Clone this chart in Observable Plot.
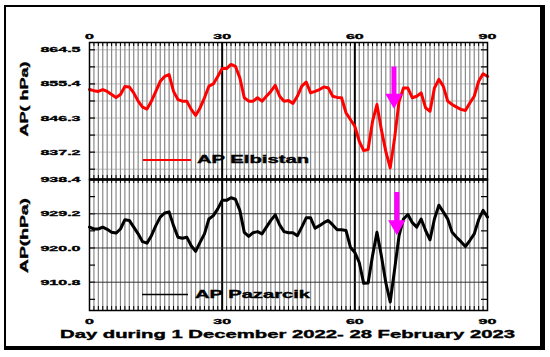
<!DOCTYPE html>
<html>
<head>
<meta charset="utf-8">
<script src="https://cdn.jsdelivr.net/npm/d3@7"></script>
<script src="https://cdn.jsdelivr.net/npm/@observablehq/plot@0.6"></script>
<style>
  html, body { margin: 0; padding: 0; background: #fff; }
  #wrap { position: relative; width: 550px; height: 357px; overflow: hidden; background: #fff; }
  #frame { position: absolute; left: 4px; top: 5px; width: 541px; height: 345px; box-sizing: border-box;
           border-style: solid; border-color: #000; border-width: 2px 5px 4px 2px; }
  .layer { position: absolute; left: 0; top: 0; }
  .layer text { stroke: #000; stroke-width: 0.35px; }
</style>
</head>
<body>
<div id="wrap"><div id="frame"></div></div>
<script>
// ---- data ----
const days = d3.range(0, 91);
const elbistan = [
  853.9, 853.6, 853.4, 853.9, 853.4, 852.6, 851.8, 852.6, 854.7, 854.6,
  853.0, 850.8, 849.2, 848.7, 850.8, 853.4, 856.1, 857.4, 857.9, 853.4,
  851.2, 850.8, 850.8, 848.6, 847.0, 849.0, 851.7, 854.8, 855.4, 857.4,
  859.5, 859.5, 860.6, 860.1, 857.0, 851.7, 850.8, 850.8, 851.7, 850.8,
  852.1, 853.4, 855.0, 852.1, 850.8, 851.0, 850.2, 852.1, 854.8, 855.9,
  853.0, 853.4, 853.9, 854.6, 854.3, 852.1, 851.8, 851.7, 847.7, 845.9,
  844.1, 840.1, 837.6, 837.9, 845.4, 849.9, 843.2, 837.4, 833.0, 841.0,
  850.8, 854.3, 854.3, 851.7, 852.1, 853.0, 849.0, 848.1, 854.3, 856.6,
  854.8, 850.8, 849.9, 849.2, 848.6, 848.3, 850.3, 852.1, 856.1, 858.1,
  857.4
];
const pazarcik = [
  925.6, 925.1, 925.1, 925.6, 925.0, 924.2, 924.0, 925.1, 927.6, 927.4,
  925.6, 923.8, 921.7, 921.3, 923.3, 926.0, 928.3, 929.4, 929.7, 926.0,
  922.9, 922.6, 922.9, 920.6, 919.1, 921.5, 923.8, 927.8, 928.7, 930.5,
  932.8, 932.8, 933.5, 933.1, 930.1, 924.2, 923.1, 924.1, 924.4, 923.8,
  925.6, 927.4, 928.9, 926.2, 924.4, 924.1, 924.1, 923.3, 925.6, 928.1,
  928.1, 925.3, 926.0, 926.8, 927.4, 926.2, 924.9, 924.9, 924.7, 920.2,
  918.8, 916.1, 910.5, 910.6, 917.9, 924.2, 917.9, 910.7, 905.5, 914.3,
  923.3, 927.8, 929.0, 926.8, 925.6, 927.8, 924.7, 922.2, 927.8, 931.5,
  929.7, 927.8, 924.2, 922.9, 921.7, 920.4, 922.0, 923.8, 927.6, 930.1,
  928.3
];
const xTicks = [0, 30, 60, 90];
const topTicks = [864.5, 855.4, 846.3, 837.2];
const topMinor = [859.95, 850.85, 841.75, 832.65];
const botTicks = [938.4, 929.2, 920.0, 910.8];
const botMinor = [933.8, 924.6, 915.4, 906.2];
const monthLines = [30, 60];
// magenta arrows (day, start value, tip value)
const arrowDay = [68.85, 69.5];
const arrowFrom = [859.9, 934.9];
const arrowTip = [848.8, 923.4];

const rows = days.map((d, i) => ({day: d, elb: elbistan[i], paz: pazarcik[i]}));
const minorDays = days.filter(d => d > 0 && d < 90 && !monthLines.includes(d));

// ---- layout ----
const W = 550, H = 357;
const mL = 89, mR = 63;
const topY0 = 42, midY = 179, botY1 = 310;
const frameW = W - mL - mR;

const font = {fontFamily: "'Liberation Sans', Arial, sans-serif", fontWeight: "bold", fontSize: "8px", background: "transparent", overflow: "visible"};

function commonMarks(yAll, fh) {
  return [
    Plot.ruleX(minorDays, {stroke: "#8a8a8a", strokeWidth: 1.2}),
    Plot.ruleX(days, {stroke: "#000", strokeWidth: 1, insetBottom: fh - 4}),
    Plot.ruleX(days, {stroke: "#000", strokeWidth: 1, insetTop: fh - 4}),
    Plot.ruleY(yAll, {stroke: "#000", strokeWidth: 1.2, insetRight: frameW - 6}),
    Plot.ruleY(yAll, {stroke: "#000", strokeWidth: 1.2, insetLeft: frameW - 6}),
    Plot.ruleX(monthLines, {stroke: "#000", strokeWidth: 2})
  ];
}

const topFH = midY - topY0;
const topPlot = Plot.plot({
  width: W, height: H,
  marginLeft: mL, marginRight: mR, marginTop: topY0, marginBottom: H - midY,
  style: font,
  x: {domain: [0, 90], axis: "top", ticks: xTicks, tickSize: 0, tickPadding: 4, label: null},
  y: {domain: [829.9, 866.45], ticks: topTicks, tickSize: 0, tickPadding: 9, tickFormat: d => d.toFixed(1), label: null},
  marks: [
    Plot.ruleY([...topTicks, ...topMinor], {stroke: "#bdbdbd", strokeWidth: 1}),
    ...commonMarks([...topTicks, ...topMinor], topFH),
    Plot.line(rows, {x: "day", y: "elb", stroke: "#ff0000", strokeWidth: 3, strokeLinejoin: "round"}),
    Plot.ruleX([0], {x: () => arrowDay[0], y1: () => arrowFrom[0], y2: () => arrowTip[0], stroke: "#ff00ff", strokeWidth: 5, insetBottom: 12}),
    Plot.dot([0], {x: () => arrowDay[0], y: () => arrowTip[0], symbol: "triangle", r: 6.45, rotate: 180, dy: -10, fill: "#ff00ff", stroke: "none"}),
    Plot.frame({stroke: "#000", strokeWidth: 1.5})
  ]
});

const botFH = botY1 - midY;
const botPlot = Plot.plot({
  width: W, height: H,
  marginLeft: mL, marginRight: mR, marginTop: midY, marginBottom: H - botY1,
  style: font,
  x: {domain: [0, 90], axis: "bottom", ticks: xTicks, tickSize: 0, tickPadding: 8, label: null},
  y: {domain: [903.2, 938.4], ticks: botTicks, tickSize: 0, tickPadding: 9, tickFormat: d => d.toFixed(1), label: null},
  marks: [
    ...commonMarks([...botTicks, ...botMinor], botFH),
    Plot.ruleY(botTicks.slice(1), {stroke: "#333", strokeWidth: 1}),
    Plot.line(rows, {x: "day", y: "paz", stroke: "#000", strokeWidth: 3, strokeLinejoin: "round"}),
    Plot.ruleX([0], {x: () => arrowDay[1], y1: () => arrowFrom[1], y2: () => arrowTip[1], stroke: "#ff00ff", strokeWidth: 5, insetBottom: 12}),
    Plot.dot([0], {x: () => arrowDay[1], y: () => arrowTip[1], symbol: "triangle", r: 6.45, rotate: 180, dy: -10, fill: "#ff00ff", stroke: "none"}),
    Plot.ruleY([938.4], {stroke: "#000", strokeWidth: 2.5}),
    Plot.frame({stroke: "#000", strokeWidth: 1.5})
  ]
});

const wrap = document.getElementById("wrap");
[topPlot, botPlot].forEach(p => { p.classList.add("layer"); wrap.appendChild(p); });

// overlay for titles and legends
const ov = d3.select(wrap).append("svg").attr("class", "layer").attr("width", W).attr("height", H)
  .style("font-family", "'Liberation Sans', Arial, sans-serif").style("font-weight", "bold");

function addText(sel, txt, len) {
  sel.text(txt).attr("textLength", len).attr("lengthAdjust", "spacingAndGlyphs");
  return sel;
}
// legends
ov.append("line").attr("x1", 143).attr("x2", 191).attr("y1", 160).attr("y2", 160).attr("stroke", "#ff0000").attr("stroke-width", 2);
addText(ov.append("text").attr("x", 197).attr("y", 163.3).attr("font-size", 10), "AP Elbistan", 112);
ov.append("line").attr("x1", 142).attr("x2", 188).attr("y1", 294.5).attr("y2", 294.5).attr("stroke", "#000").attr("stroke-width", 1.5);
addText(ov.append("text").attr("x", 195).attr("y", 298.3).attr("font-size", 10), "AP Pazarcik", 115);
// axis titles
addText(ov.append("text").attr("x", 287.5).attr("y", 338).attr("font-size", 10.5).attr("text-anchor", "middle"),
  "Day during 1 December 2022- 28 February 2023", 455);
addText(ov.append("text").attr("transform", "translate(28,99) rotate(-90)").attr("font-size", 11).attr("text-anchor", "middle"), "AP( hPa)", 75);
addText(ov.append("text").attr("transform", "translate(28,235.5) rotate(-90)").attr("font-size", 11).attr("text-anchor", "middle"), "AP(hPa)", 75);

// widen the tick labels like the reference's stretched typeface
[topPlot, botPlot].forEach(p => {
  p.querySelectorAll("text").forEach(t => {
    const L = t.getComputedTextLength();
    if (L > 0) { t.setAttribute("textLength", (L * 2.0).toFixed(1)); t.setAttribute("lengthAdjust", "spacingAndGlyphs"); }
  });
});
</script>
</body>
</html>
